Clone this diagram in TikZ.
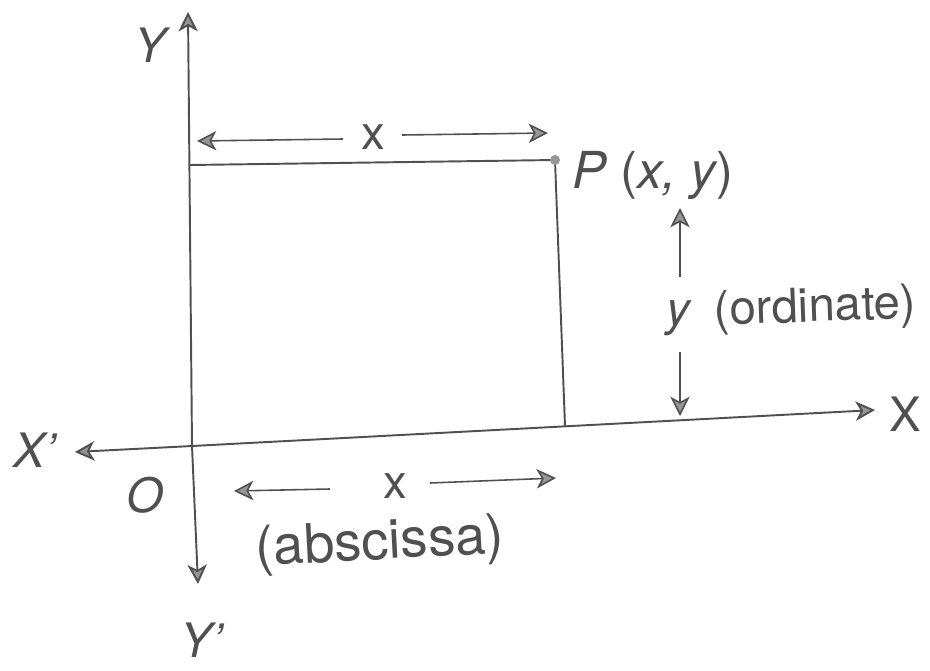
\documentclass[tikz,border=0pt]{standalone}
\usepackage{fontspec}
\setsansfont{TeX Gyre Heros}
\usepackage{tikz}
\usetikzlibrary{positioning,arrows.meta,calc}
\definecolor{ink}{RGB}{80,80,80}
\definecolor{tipfill}{RGB}{150,150,150}
\tikzset{
  lbl/.style={font=\fontsize{27}{32}\selectfont\sffamily\itshape,text=ink,inner sep=1pt},
  word/.style={font=\fontsize{27}{32}\selectfont\sffamily,text=ink,inner sep=1pt},
  axisline/.style={draw=ink,line width=1.1pt},
  arr/.style={draw=ink,line width=0.9pt,-{Stealth[length=11pt,width=11pt,inset=3pt,color=ink,fill=tipfill]}}
}

\begin{document}
\begin{tikzpicture}[x=0.02cm,y=-0.02cm]
\useasboundingbox (0,0) rectangle (930,670);
% axes
\coordinate (O) at (192,446);
\coordinate (Xtip) at (875,410);
\coordinate (Xntip) at (75,452);
\coordinate (Ytip) at (188,12);
\coordinate (Yntip) at (198,584);
\draw[arr,line width=1.1pt] (O) -- (Xtip);
\draw[arr,line width=1.1pt] (O) -- (Xntip);
\draw[arr,line width=1.1pt] (O) -- (Ytip);
\draw[arr,line width=1.1pt] (O) -- (Yntip);
\node[lbl] (ylab) at (150,45) {Y};
\node[word] (xlab) at (905,414) {X};
\node[lbl] (xnlab) at (35,450) {X’};
\node[lbl] (ynlab) at (202,640) {Y’};
\node[lbl] (olab) at (145,495) {O};
% point P and its projections
\coordinate (P) at (555,160);
\coordinate (Pfoot) at (565,426);
\coordinate (Pside) at (190,165);
\draw[axisline] (Pside) -- (P) -- (Pfoot);
\fill[tipfill] (P) circle (5);
\node[lbl,anchor=west,font=\fontsize{29}{32}\selectfont\sffamily\itshape] (plab) at (570,175) {P {\upshape(}x, y{\upshape)}};
% distance x along the top
\node[word] (xtop) at (373,137) {x};
\draw[arr] (343,139) -- (197,141);
\draw[arr] (402,135) -- (548,133);
% distance y on the right
\node[lbl] (yord) at (678,318) {y};
\node[word,anchor=west,rotate=2] (ordlab) at (712,313) {(ordinate)};
\draw[arr] (680,277) -- (680,208);
\draw[arr] (680,352) -- (680,416);
% distance x below the axis
\node[word] (xbot) at (395,486) {x};
\draw[arr] (330,489) -- (234,491);
\draw[arr] (430,483) -- (556,478);
\node[word,rotate=3,font=\fontsize{31}{34}\selectfont\sffamily] (abslab) at (380,545) {(abscissa)};
\end{tikzpicture}
\end{document}
